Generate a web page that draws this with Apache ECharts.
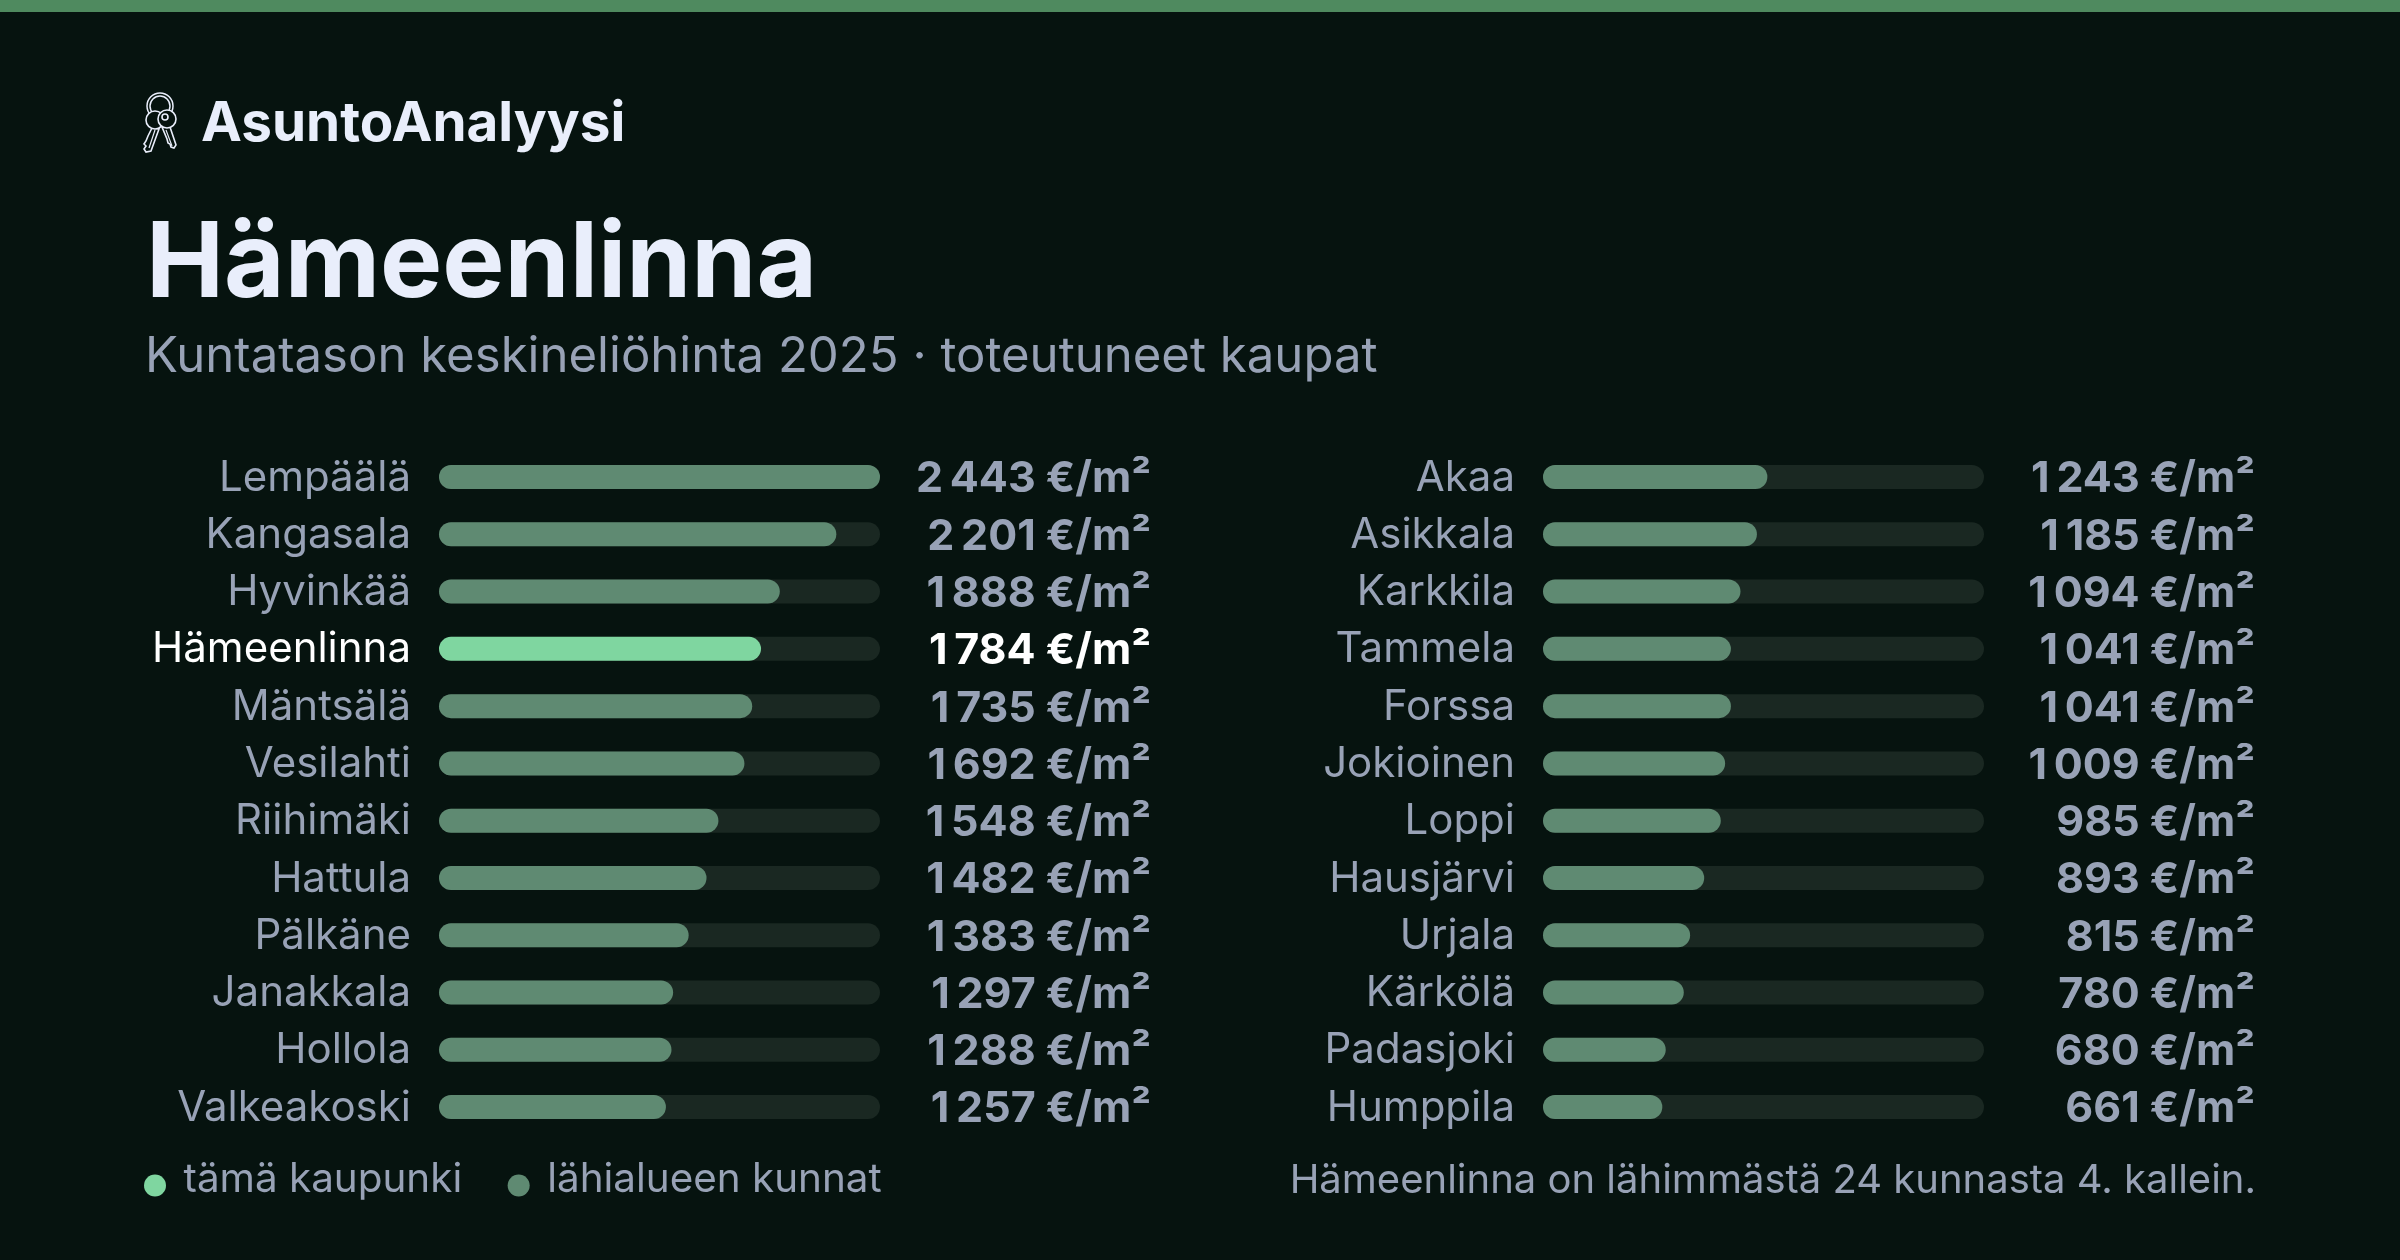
<!DOCTYPE html>
<html><head><meta charset="utf-8">
<style>html,body{margin:0;padding:0;background:#06130f}#c{width:2400px;height:1260px}</style>
<script src="https://cdn.jsdelivr.net/npm/echarts@6/dist/echarts.min.js"></script>
</head><body><div id="c"></div>
<script>
const leftNames = ['Lempäälä','Kangasala','Hyvinkää','Hämeenlinna','Mäntsälä','Vesilahti','Riihimäki','Hattula','Pälkäne','Janakkala','Hollola','Valkeakoski'];
const leftValues = [2443,2201,1888,1784,1735,1692,1548,1482,1383,1297,1288,1257];
const rightNames = ['Akaa','Asikkala','Karkkila','Tammela','Forssa','Jokioinen','Loppi','Hausjärvi','Urjala','Kärkölä','Padasjoki','Humppila'];
const rightValues = [1243,1185,1094,1041,1041,1009,985,893,815,780,680,661];
const highlightName = 'Hämeenlinna';
const FONT = 'Inter';
const BG='#06130f', TRACK='#1a2822', NEAR='#5f8a72', HI='#7fd6a0', MUTED='#98a2b6', WHITE='#ffffff', INK='#e9eefb';
const fmt = v => { const s=String(v); return s.length>3 ? s.slice(0,-3)+'\u2009'+s.slice(-3)+' €/m²' : s+' €/m²'; };
const labelRich = (size, weight, pad) => ({
  n:{fontFamily:FONT, fontSize:size, fontWeight:weight, color:MUTED, padding:[pad,0,0,0]},
  h:{fontFamily:FONT, fontSize:size, fontWeight:weight, color:WHITE, padding:[pad,0,0,0]}
});
const catAxis = (idx, names) => ({
  type:'category', gridIndex:idx, inverse:true, data:names,
  axisLine:{show:false}, axisTick:{show:false},
  axisLabel:{interval:0, margin:28, fontFamily:FONT, fontSize:42, rich:labelRich(42,400,2),
    formatter:(v)=>`{${v===highlightName?'h':'n'}|${v}}`}
});
const valAxis = (idx, names, values) => ({
  type:'category', gridIndex:idx, inverse:true, position:'right', data:values.map(fmt),
  axisLine:{show:false}, axisTick:{show:false},
  axisLabel:{interval:0, margin:271, align:'right', fontFamily:FONT, fontSize:43, rich:labelRich(43,700,5),
    formatter:(v,i)=>`{${names[i]===highlightName?'h':'n'}|${v}}`}
});
const xAxis = idx => ({type:'value', gridIndex:idx, min:0, max:2443, show:false});
const bar = (name, idx, yIdx, data, color, bg) => ({
  name, type:'bar', xAxisIndex:idx, yAxisIndex:yIdx, data, barWidth:24, barGap:'-100%', silent:true,
  itemStyle:{color, borderRadius:12}, animation:false,
  showBackground:bg, backgroundStyle:{color:TRACK, borderRadius:12}
});
const keyLine = {fill:BG, stroke:INK, lineWidth:1.6};
const option = {
  backgroundColor:BG, animation:false,
  title:[
    {text:'AsuntoAnalyysi', left:201, top:97, padding:0, textStyle:{fontFamily:FONT,fontSize:54.8,fontWeight:700,color:INK}},
    {text:'Hämeenlinna', left:146, top:213, padding:0, textStyle:{fontFamily:FONT,fontSize:104.5,fontWeight:700,color:INK}},
    {text:'Kuntatason keskineliöhinta 2025 · toteutuneet kaupat', left:145, top:333, padding:0, textStyle:{fontFamily:FONT,fontSize:49.1,fontWeight:400,color:MUTED}},
    {text:'Hämeenlinna on lähimmästä 24 kunnasta 4. kallein.', right:144, top:1161, padding:0, textStyle:{fontFamily:FONT,fontSize:40,fontWeight:400,color:MUTED}}
  ],
  legend:{left:139, top:1155, orient:'horizontal', icon:'circle', itemWidth:22, itemHeight:22, itemGap:45.5,
    selectedMode:false, data:['tämä kaupunki','lähialueen kunnat'],
    formatter:'{t|{name}}',
    textStyle:{fontFamily:FONT,fontSize:40.4,color:MUTED,
      rich:{t:{fontFamily:FONT,fontSize:40.4,color:MUTED,padding:[0,0,11,12.5]}}}},
  grid:[
    {left:439, width:441, top:448.4, height:687.3, outerBoundsMode:'none'},
    {left:1543, width:441, top:448.4, height:687.3, outerBoundsMode:'none'}
  ],
  xAxis:[xAxis(0),xAxis(1)],
  yAxis:[catAxis(0,leftNames),valAxis(0,leftNames,leftValues),catAxis(1,rightNames),valAxis(1,rightNames,rightValues)],
  series:[
    bar('lähialueen kunnat',0,0,leftValues.map((v,i)=>leftNames[i]===highlightName?'-':v),NEAR,true),
    bar('tämä kaupunki',0,0,leftValues.map((v,i)=>leftNames[i]===highlightName?v:'-'),HI,false),
    bar('lähialueen kunnat',1,2,rightValues,NEAR,true)
  ],
  graphic:[
    {type:'rect', x:0, y:0, shape:{width:2400,height:12}, style:{fill:'#4f8a5f'}, silent:true},
    {type:'group', x:0, y:0, silent:true, children:[
      {type:'circle', shape:{cx:160,cy:106,r:13}, style:{fill:'none',stroke:INK,lineWidth:1.5}},
      {type:'circle', shape:{cx:160,cy:106,r:10}, style:{fill:'none',stroke:INK,lineWidth:1.5}},
      {type:'polygon', shape:{points:[[152,128],[159,129],[151,151],[146,152],[144,149],[146,146],[144,144],[146,141],[148,136]]}, style:keyLine},
      {type:'circle', shape:{cx:155,cy:120,r:9}, style:keyLine},
      {type:'polyline', shape:{points:[[155,130],[149,148]]}, style:{fill:'none',stroke:INK,lineWidth:1.2}},
      {type:'polygon', shape:{points:[[162,127],[170,127],[176,145],[174,148],[171,147],[170,144],[168,143],[167,139]]}, style:keyLine},
      {type:'circle', shape:{cx:167,cy:119,r:9}, style:keyLine},
      {type:'polyline', shape:{points:[[166,130],[172,146]]}, style:{fill:'none',stroke:INK,lineWidth:1.2}},
      {type:'circle', shape:{cx:165,cy:117,r:3}, style:keyLine}
    ]}
  ]
};
const chart = echarts.init(document.getElementById('c'), null, {renderer:'canvas', width:2400, height:1260});
chart.setOption(option);
</script></body></html>
